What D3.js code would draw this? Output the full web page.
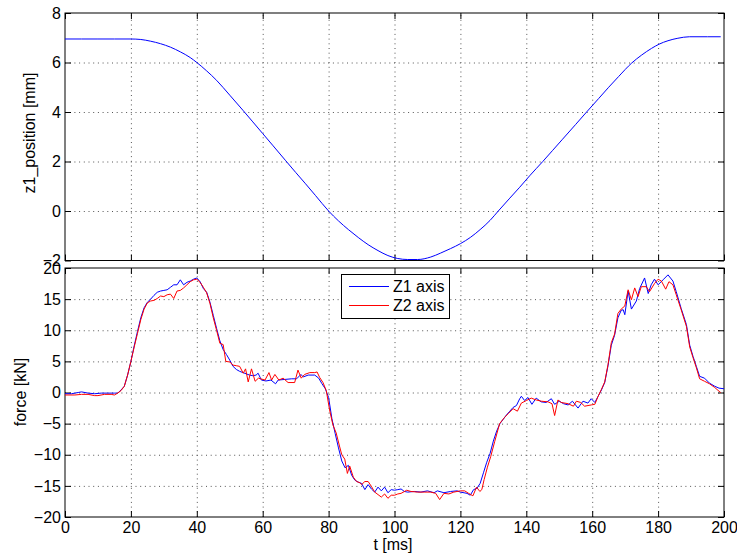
<!DOCTYPE html>
<html>
<head>
<meta charset="utf-8">
<script src="https://cdn.jsdelivr.net/npm/d3@7"></script>
<style>
body { margin: 0; background: #fff; }
text { font-family: "Liberation Sans", Arial, sans-serif; }
</style>
</head>
<body>
<div id="chart"></div>
<script>
// tick values
var timeTicks = [0, 20, 40, 60, 80, 100, 120, 140, 160, 180, 200];
var positionTicks = [-2, 0, 2, 4, 6, 8];
var forceTicks = [-20, -15, -10, -5, 0, 5, 10, 15, 20];
var seriesNames = ["Z1 axis", "Z2 axis"];

// z1 position [mm] over t [ms]
var positionData = [
    [0, 6.95], [5, 6.95], [10, 6.95], [15, 6.95], [20, 6.95], [23, 6.93], [26, 6.86], [29, 6.76],
    [32, 6.62], [35, 6.43], [38, 6.2], [40, 6.0], [43, 5.66], [46, 5.28], [50, 4.68], [54, 4.07],
    [57, 3.6], [60, 3.13], [63, 2.66], [67, 2.03], [70, 1.56], [73, 1.1], [76, 0.63], [80, 0.0],
    [83, -0.4], [86, -0.75], [89, -1.07], [92, -1.36], [95, -1.6], [98, -1.8], [101, -1.92],
    [104, -1.96], [107, -1.96], [111, -1.86], [114, -1.7], [117, -1.52], [120, -1.32],
    [123, -1.07], [126, -0.75], [129, -0.38], [131.5, 0.0], [135, 0.52], [138, 0.96], [141, 1.42],
    [145, 2.0], [148, 2.45], [151, 2.9], [155, 3.5], [158.3, 4.0], [162, 4.55], [165, 5.0],
    [168, 5.43], [172, 5.98], [175, 6.3], [178, 6.57], [180.3, 6.74], [183, 6.88], [186, 6.98],
    [189.5, 7.04], [195, 7.04], [199, 7.04]
];

// force [kN] over t [ms], Z1 axis
var z1Force = [
    [0, -0.2], [2, -0.2], [4, 0.0], [5, 0.1], [7, -0.1], [9, -0.2], [11, -0.1], [13, -0.1],
    [15, -0.1], [16, -0.1], [17, 0.4], [18, 1.0], [19, 2.8], [20, 5.0], [21, 7.5], [22, 9.8],
    [23, 12.0], [24, 13.6], [25, 14.5], [26, 15.0], [27, 15.6], [28, 16.1], [29, 16.3], [30, 16.4],
    [31, 16.5], [32, 16.9], [33, 17.3], [34, 17.3], [35, 18.1], [36, 17.3], [37, 17.7], [38, 17.9],
    [39, 18.2], [40, 18.4], [41, 17.8], [42, 16.7], [43, 16.1], [44, 14.5], [45, 12.4], [46, 10.3],
    [47, 8.3], [48, 6.9], [49, 6.1], [50, 5.2], [51, 4.2], [52, 3.7], [53, 3.4], [54, 3.2],
    [55, 3.0], [56, 2.8], [57, 2.7], [58, 2.8], [58.6, 3.1], [59.6, 2.0], [61, 1.85], [62.5, 2.0],
    [63.9, 1.4], [64.7, 2.0], [66.7, 2.1], [68.8, 2.2], [70.3, 2.2], [71.6, 2.9], [72.3, 2.5],
    [73.8, 2.8], [75.8, 2.8], [77, 2.3], [78, 1.4], [79, 0.6], [80, -0.8], [81, -4.2], [82, -6.6],
    [83, -8.9], [84, -11.0], [85, -12.1], [86, -11.7], [87, -13.3], [88, -14.1], [89, -14.4],
    [90, -14.6], [91, -15.6], [92, -14.8], [93, -15.5], [94, -16.0], [95, -15.2], [96, -15.8],
    [97, -15.2], [98, -16.1], [99, -15.6], [100, -15.7], [101, -15.6], [102, -15.5], [103, -15.9],
    [104, -16.0], [106, -15.9], [108, -16.0], [110, -15.8], [112, -16.1], [113, -15.8],
    [115, -16.1], [117, -15.9], [119, -15.8], [120, -16.0], [122, -16.2], [123, -16.5],
    [124, -15.6], [125, -15.4], [126, -14.6], [127, -12.9], [128, -11.2], [129, -9.8], [130, -7.8],
    [131, -6.2], [132, -5.0], [133, -4.3], [134, -3.6], [135, -3.0], [136, -2.4], [137, -2.1],
    [138, -1.0], [138.5, -0.6], [139.5, -1.3], [140.5, -0.8], [141.7, -1.9], [143, -0.9],
    [144.5, -1.5], [146, -1.6], [147.6, -1.0], [148.6, -1.9], [150, -1.4], [151.3, -1.8],
    [152.7, -2.0], [154, -1.4], [155.7, -2.5], [157.2, -1.4], [158.7, -1.7], [159.7, -1.0],
    [160.8, -1.6], [161.8, -0.6], [162.8, 0.4], [163.8, 1.6], [164.8, 4.3], [165.8, 7.6],
    [166.8, 9.2], [167.8, 12.0], [168.8, 13.2], [169.4, 13.3], [169.9, 12.5], [170.9, 16.3],
    [171.9, 13.4], [173.4, 14.7], [174.4, 16.7], [175.9, 18.4], [177, 15.9], [177.9, 17.3],
    [178.9, 18.2], [180, 17.3], [181.5, 18.1], [183, 18.9], [184.5, 17.9], [185.5, 16.2],
    [187, 13.5], [188.6, 10.9], [189.6, 7.6], [190.6, 5.8], [191.6, 4.2], [192.6, 2.6],
    [194.1, 2.3], [195.6, 1.5], [197.2, 1.0], [198.5, 0.7], [200, 0.6]
];

// force [kN] over t [ms], Z2 axis
var z2Force = [
    [0, -0.4], [3, -0.4], [5, -0.3], [7, -0.3], [9, -0.5], [10, -0.5], [12, -0.3], [14, -0.3],
    [15, -0.4], [16, -0.1], [17, 0.3], [18, 1.0], [19, 2.8], [20, 5.0], [21, 7.3], [22, 9.5],
    [23, 11.7], [24, 13.4], [25, 14.4], [26, 14.7], [27, 14.8], [28, 15.1], [29, 15.5], [30, 15.4],
    [31, 15.7], [32, 15.8], [33, 15.1], [34, 16.3], [35, 16.4], [36, 16.8], [37, 17.3], [38, 17.8],
    [39, 18.1], [40, 18.2], [41, 17.7], [42, 16.9], [43, 16.0], [44, 14.3], [45, 12.0], [46, 10.0],
    [47, 7.9], [48, 7.7], [48.8, 5.0], [50, 4.9], [51, 4.4], [52, 4.3], [53, 4.2], [54.1, 3.1],
    [54.8, 3.8], [55.6, 1.7], [56.6, 3.8], [57.7, 1.8], [58.7, 2.3], [60.7, 2.0], [61.9, 3.2],
    [62.7, 2.0], [63.7, 2.9], [64.9, 2.0], [66.2, 2.3], [67.7, 1.6], [69.7, 1.6], [70.7, 3.6],
    [71.7, 2.3], [72.7, 2.9], [74.3, 3.2], [75.8, 3.2], [76.5, 3.3], [77.3, 2.4], [78.3, 1.6],
    [79.3, 0.3], [80.3, -2.8], [81.3, -5.2], [82.3, -6.5], [83.3, -8.6], [84, -10.0],
    [84.9, -10.7], [85.7, -13.0], [86.4, -11.8], [87.5, -13.6], [88.5, -14.3], [89.5, -14.5],
    [90, -14.8], [91, -14.3], [92, -14.3], [93, -15.1], [94, -16.0], [95, -16.4], [96, -16.8],
    [97, -16.3], [98, -17.0], [99, -16.5], [100, -16.5], [101, -16.3], [102, -16.2],
    [103.7, -15.7], [105, -15.9], [107, -16.0], [109, -16.0], [111, -16.0], [112.5, -16.2],
    [113.7, -17.2], [115, -16.2], [116.5, -16.3], [118, -16.0], [120, -15.8], [121.3, -15.8],
    [122.5, -16.2], [123.8, -16.6], [124.9, -15.2], [125.9, -15.9], [126.5, -15.6],
    [127.2, -14.0], [128.2, -12.0], [129.2, -10.3], [130.4, -7.9], [131.9, -5.0], [133.4, -4.0],
    [134.5, -3.4], [136, -2.6], [137.3, -3.0], [138.5, -1.7], [140, -1.3], [141.5, -0.9],
    [143, -1.2], [144.6, -1.4], [146.6, -1.5], [147.8, -1.8], [148.6, -3.7], [149.6, -1.2],
    [150.6, -1.6], [152.7, -1.8], [154.3, -2.2], [155.2, -1.4], [156.5, -1.6], [157.7, -2.2],
    [159.7, -2.0], [160.8, -1.9], [161.8, -0.6], [162.8, 0.5], [163.8, 1.7], [164.8, 4.5],
    [165.8, 8.0], [166.8, 9.4], [167.8, 12.7], [168.8, 13.4], [169.9, 13.9], [170.9, 16.5],
    [171.9, 14.9], [172.9, 16.8], [173.9, 15.4], [174.9, 17.0], [176.4, 17.0], [177.4, 16.2],
    [178.9, 17.5], [180, 18.2], [181, 17.9], [182.3, 16.6], [183.3, 17.8], [184.5, 17.3],
    [185.5, 15.7], [187, 13.3], [188.6, 10.6], [189.6, 7.3], [190.6, 5.6], [191.6, 4.0],
    [192.6, 2.2], [194.1, 1.8], [195.6, 1.4], [197.2, 0.8], [198.5, 0.2], [199, 0.0]
];

function init() {

    var w = 737;
    var h = 555;
    var fontSize = 16;
    var tick = 6;

    var svg = d3.select("#chart")
                .append("svg")
                .attr("width", w)
                .attr("height", h);

    var x = d3.scaleLinear().domain([0, 200]).range([65, 724]);
    var yTop = d3.scaleLinear().domain([-2, 8]).range([260.5, 13]);
    var yBot = d3.scaleLinear().domain([-20, 20]).range([517, 268]);

    // one MATLAB-style box with grid, ticks on all sides
    function panel(y, yTicks, showX) {
        var g = svg.append("g");
        var top = y.range()[1], bottom = y.range()[0];
        var left = x.range()[0], right = x.range()[1];

        // dotted grid
        g.append("g")
            .attr("transform", "translate(0," + bottom + ")")
            .call(d3.axisBottom(x).tickValues(timeTicks.slice(1, -1))
                .tickSize(-(bottom - top)).tickFormat(""))
            .call(function(s) { s.select(".domain").remove(); });
        g.append("g")
            .attr("transform", "translate(" + left + ",0)")
            .call(d3.axisLeft(y).tickValues(yTicks.slice(1, -1))
                .tickSize(-(right - left)).tickFormat(""))
            .call(function(s) { s.select(".domain").remove(); });
        g.selectAll(".tick line")
            .attr("stroke", "#555")
            .attr("stroke-dasharray", "1,3.7");

        // box
        g.append("rect")
            .attr("x", left).attr("y", top)
            .attr("width", right - left).attr("height", bottom - top)
            .attr("fill", "none").attr("stroke", "#000");

        var axes = svg.append("g");
        axes.append("g")
            .attr("transform", "translate(0," + bottom + ")")
            .call(d3.axisBottom(x).tickValues(timeTicks).tickSizeInner(-tick).tickSizeOuter(0)
                .tickPadding(5).tickFormat(showX ? d3.format("d") : ""));
        axes.append("g")
            .attr("transform", "translate(0," + top + ")")
            .call(d3.axisTop(x).tickValues(timeTicks).tickSizeInner(-tick).tickSizeOuter(0).tickFormat(""));
        axes.append("g")
            .attr("transform", "translate(" + left + ",0)")
            .call(d3.axisLeft(y).tickValues(yTicks).tickSizeInner(-tick).tickSizeOuter(0)
                .tickPadding(4));
        axes.append("g")
            .attr("transform", "translate(" + right + ",0)")
            .call(d3.axisRight(y).tickValues(yTicks).tickSizeInner(-tick).tickSizeOuter(0).tickFormat(""));
        axes.selectAll(".domain").remove();
        axes.selectAll("text")
            .attr("font-size", fontSize)
            .attr("font-family", "Liberation Sans, Arial, sans-serif")
            .attr("fill", "#000");
        return g;
    }

    panel(yTop, positionTicks, false);
    panel(yBot, forceTicks, true);

    var line = function(y, curve) {
        return d3.line()
            .curve(curve || d3.curveLinear)
            .x(function(d) { return x(d[0]); })
            .y(function(d) { return y(d[1]); });
    };

    svg.append("path")
        .datum(positionData)
        .attr("d", line(yTop, d3.curveMonotoneX))
        .attr("fill", "none")
        .attr("stroke", "#0000ff")
        .attr("stroke-width", 1);

    var colors = ["#0000ff", "#ff0000"];
    [z1Force, z2Force].forEach(function(series, i) {
        svg.append("path")
            .datum(series)
            .attr("d", line(yBot))
            .attr("fill", "none")
            .attr("stroke", colors[i])
            .attr("stroke-width", 1);
    });

    // axis labels
    svg.append("text")
        .attr("transform", "translate(35,133) rotate(-90)")
        .attr("text-anchor", "middle")
        .attr("font-size", fontSize)
        .text("z1_position [mm]");
    svg.append("text")
        .attr("transform", "translate(26,392) rotate(-90)")
        .attr("text-anchor", "middle")
        .attr("font-size", fontSize)
        .text("force [kN]");
    svg.append("text")
        .attr("x", 393)
        .attr("y", 550)
        .attr("text-anchor", "middle")
        .attr("font-size", fontSize)
        .text("t [ms]");

    // legend
    var legend = svg.append("g").attr("transform", "translate(341,274)");
    legend.append("rect")
        .attr("x", 0.5).attr("y", 0.5)
        .attr("width", 108).attr("height", 44)
        .attr("fill", "#fff").attr("stroke", "#000");
    seriesNames.forEach(function(name, i) {
        var ly = 12.5 + i * 19;
        legend.append("line")
            .attr("x1", 8).attr("x2", 48)
            .attr("y1", ly).attr("y2", ly)
            .attr("stroke", colors[i])
            .attr("stroke-width", 1);
        legend.append("text")
            .attr("x", 52).attr("y", ly)
            .attr("dy", "0.35em")
            .attr("font-size", fontSize)
            .attr("fill", "#000")
            .text(name);
    });
}

window.onload = init;
</script>
</body>
</html>
